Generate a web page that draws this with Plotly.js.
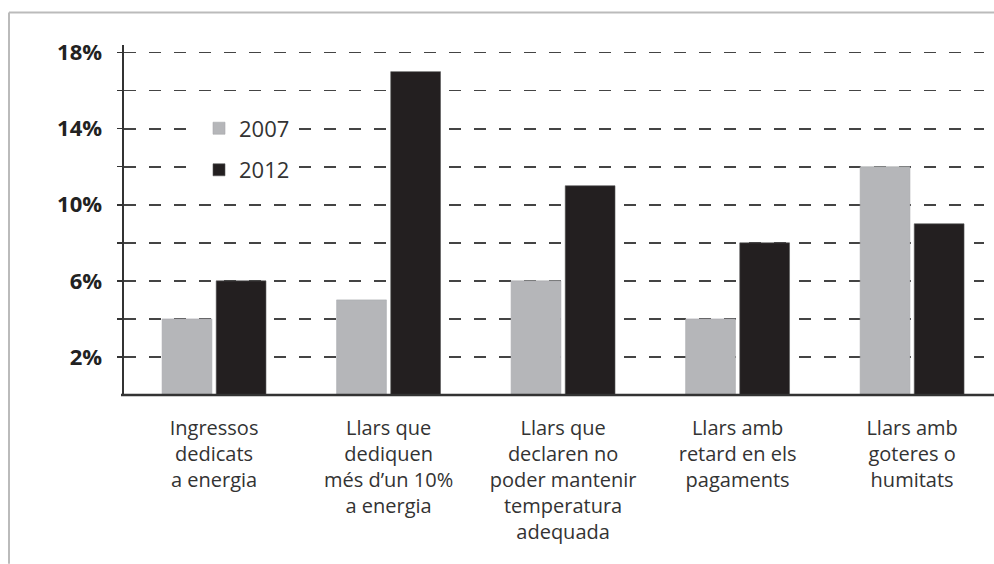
<!DOCTYPE html>
<html>
<head>
<meta charset="utf-8">
<script src="https://cdn.plot.ly/plotly-3.0.1.min.js"></script>
<style>
  html, body { margin: 0; padding: 0; background: #fff; }
  #chart { width: 994px; height: 564px; }
</style>
</head>
<body>
<div id="chart"></div>
<script>
// categories (x axis labels, multi-line)
const categories = [
    'Ingressos<br>dedicats<br>a energia',
    'Llars que<br>dediquen<br>més d\u2019un 10%<br>a energia',
    'Llars que<br>declaren no<br>poder mantenir<br>temperatura<br>adequada',
    'Llars amb<br>retard en els<br>pagaments',
    'Llars amb<br>goteres o<br>humitats'
];
// series values (%)
const values2007 = [4, 5, 6, 4, 12];
const values2012 = [6, 17, 11, 8, 9];
// y ticks: grid every 2%, label every 4%
const yTickVals = [2, 4, 6, 8, 10, 12, 14, 16, 18];
const yTickText = ['2%', '', '6%', '', '10%', '', '14%', '', '18%'];

const catIdx = categories.map((c, i) => i);

// plot area in pixels, used to place the outer frame lines
const L = 124, R = 984, T = 44.5, B = 395;
const px = (x) => (x - L) / (R - L);
const py = (y) => (B - y) / (B - T);

let trace2007 = {
    type: 'bar',
    name: '2007',
    legendgroup: 'a',
    x: catIdx,
    y: values2007,
    marker: { color: '#b5b6b9', line: { color: '#a8a9ac', width: 0.6 } },
    hoverinfo: 'skip'
};
let trace2012 = {
    type: 'bar',
    name: '2012',
    legendgroup: 'b',
    x: catIdx,
    y: values2012,
    marker: { color: '#231f20', line: { color: '#555', width: 0.6 } },
    hoverinfo: 'skip'
};

let layout = {
    width: 994,
    height: 564,
    margin: { l: L, r: 994 - R, t: T, b: 564 - B, pad: 0 },
    paper_bgcolor: '#fff',
    plot_bgcolor: '#fff',
    barmode: 'group',
    bargap: 0.38,
    bargroupgap: 0.08,
    showlegend: true,
    legend: {
        x: px(199), y: py(107), xanchor: 'left', yanchor: 'top',
        bgcolor: '#fff',
        traceorder: 'grouped',
        tracegroupgap: 10,
        font: { family: 'Open Sans, sans-serif', size: 22, color: '#333' },
        itemwidth: 30
    },
    xaxis: {
        range: [-0.516, 4.412],
        tickmode: 'array',
        tickvals: catIdx,
        ticktext: categories,
        ticks: '',
        ticklabelstandoff: 19,
        showgrid: false,
        zeroline: false,
        showline: false,
        tickfont: { family: 'Open Sans, sans-serif', size: 20, color: '#333' },
        fixedrange: true
    },
    yaxis: {
        range: [0, 18.4],
        tickmode: 'array',
        tickvals: yTickVals,
        ticktext: yTickText,
        ticks: 'outside',
        ticklen: 5,
        tickwidth: 1.5,
        tickcolor: '#333',
        ticklabelstandoff: 10,
        showgrid: true,
        gridcolor: '#444',
        gridwidth: 1.6,
        griddash: '12px,13px',
        zeroline: false,
        showline: true,
        linecolor: '#333',
        linewidth: 2.5,
        tickfont: { family: 'Open Sans, sans-serif', size: 22, color: '#222', weight: 'bold' },
        fixedrange: true
    },
    shapes: [
        // baseline, running past the plot area to the right edge
        { type: 'line', xref: 'paper', yref: 'paper', x0: px(121), x1: px(994), y0: 0, y1: 0,
          line: { color: '#333', width: 2.5 } },
        // outer frame: top and left
        { type: 'line', xref: 'paper', yref: 'paper', x0: px(9), x1: px(994), y0: py(12), y1: py(12),
          line: { color: '#bbb', width: 2 } },
        { type: 'line', xref: 'paper', yref: 'paper', x0: px(9), x1: px(9), y0: py(12), y1: py(564),
          line: { color: '#bbb', width: 2 } }
    ]
};

Plotly.newPlot('chart', [trace2007, trace2012], layout, { staticPlot: true, displayModeBar: false });
</script>
</body>
</html>
